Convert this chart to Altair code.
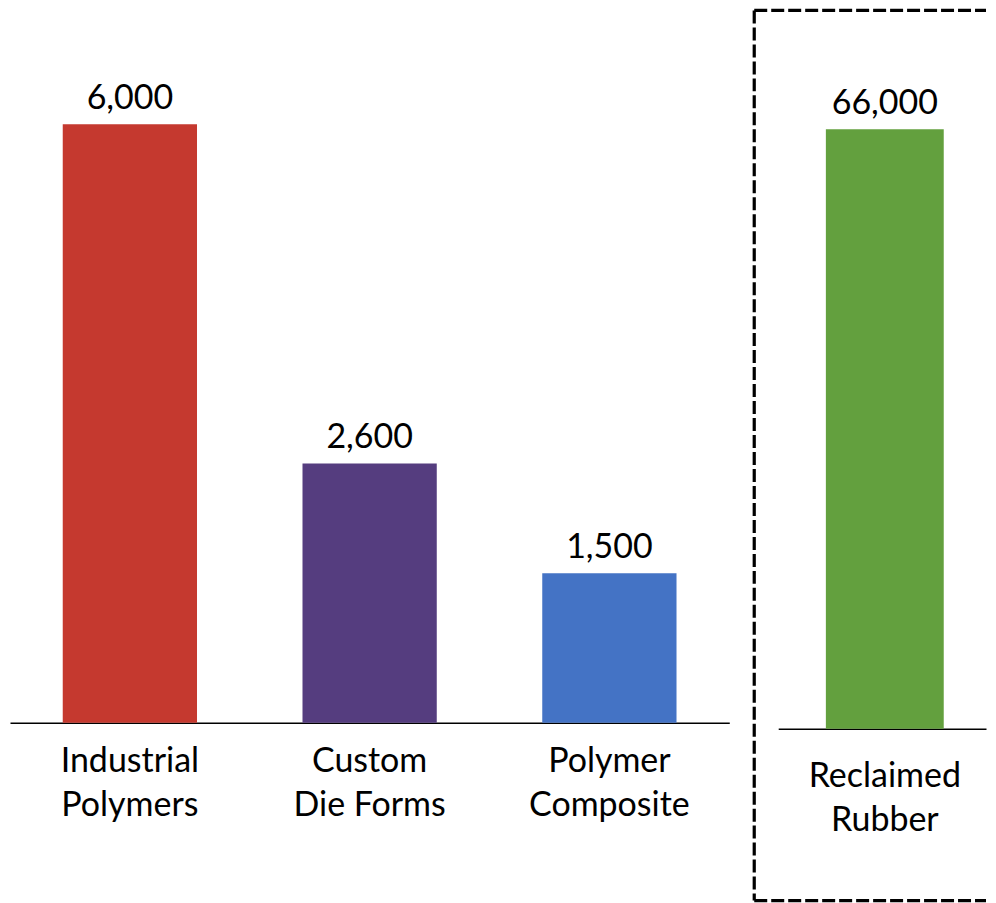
import altair as alt
import pandas as pd

categories = ["Industrial\nPolymers", "Custom\nDie Forms", "Polymer\nComposite"]
values = [6000, 2600, 1500]
colors = ["#C5392F", "#553D7F", "#4473C5"]

right_categories = ["Reclaimed\nRubber"]
right_values = [66000]
right_colors = ["#63A03E"]

FONT = "Lato"

left_df = pd.DataFrame({"cat": categories, "val": values})
right_df = pd.DataFrame({"cat": right_categories, "val": right_values})


def panel(df, cats, cols, ymax, pad_inner, pad_outer, align, label_pad):
    base = alt.Chart(df).encode(
        x=alt.X(
            "cat:N",
            sort=cats,
            title=None,
            scale=alt.Scale(paddingInner=pad_inner, paddingOuter=pad_outer, align=align),
            axis=alt.Axis(
                labelAngle=0,
                labelExpr="split(datum.label, '\\n')",
                labelFont=FONT,
                labelFontSize=34,
                labelLineHeight=44,
                labelColor="black",
                labelPadding=label_pad,
                ticks=False,
                domainColor="black",
                domainWidth=1.5,
                grid=False,
            ),
        ),
        y=alt.Y("val:Q", axis=None, scale=alt.Scale(domain=[0, ymax], nice=False)),
    )
    bars = base.mark_bar().encode(
        color=alt.Color("cat:N", scale=alt.Scale(domain=cats, range=cols), legend=None)
    )
    texts = base.mark_text(
        baseline="bottom", dy=-8, font=FONT, fontSize=34, color="black"
    ).encode(text=alt.Text("val:Q", format=","))
    return bars, texts


lb, lt = panel(left_df, categories, colors, 7032, 0.44, 0.22, 0.5, 22)
left = alt.layer(lb, lt).properties(width=720, height=702)

rb, rt = panel(right_df, right_categories, right_colors, 77880, 0.44, 0.2136, 0.53, 31)

dash = dict(color="black", strokeWidth=3.2, strokeDash=[13, 4])
top_rule = alt.Chart(right_df).mark_rule(**dash).encode(
    x=alt.value(-24), x2=alt.value(208), y=alt.value(-11)
)
left_rule = alt.Chart(right_df).mark_rule(**dash).encode(
    x=alt.value(-24), y=alt.value(-11), y2=alt.value(880)
)
bottom_rule = alt.Chart(right_df).mark_rule(**dash).encode(
    x=alt.value(-24), x2=alt.value(208), y=alt.value(880)
)

right = alt.layer(rb, rt, top_rule, left_rule, bottom_rule).properties(
    width=208, height=708
)

chart = (
    alt.hconcat(left, right, spacing=49, bounds="flush")
    .resolve_scale(x="independent", y="independent", color="independent")
    .properties(padding={"left": 2, "top": 0, "right": 0, "bottom": 0})
    .configure_view(stroke=None)
)

chart.save("out.html", embed_options={"renderer": "svg", "actions": False})
